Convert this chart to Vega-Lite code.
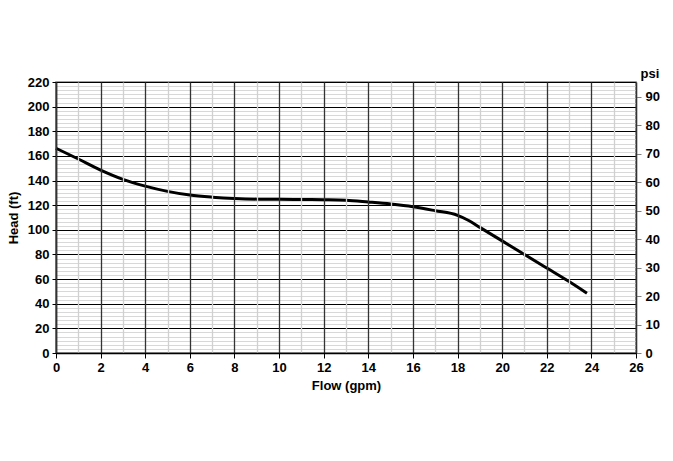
{
  "$schema": "https://vega.github.io/schema/vega-lite/v6.json",
  "width": 580,
  "height": 271,
  "autosize": "none",
  "padding": {"left": 56, "top": 82, "right": 37, "bottom": 108},
  "background": "white",
  "config": {
    "font": "Liberation Sans",
    "view": {"stroke": "#808080", "strokeWidth": 1.5},
    "axis": {
      "labelFont": "Liberation Sans",
      "labelFontWeight": "bold",
      "labelFontSize": 13,
      "labelColor": "#000",
      "titleFont": "Liberation Sans",
      "titleFontWeight": "bold",
      "titleFontSize": 13,
      "titleColor": "#000"
    }
  },
  "datasets": {
    "curve": [
      {"flow": 0, "head": 166.2},
      {"flow": 1, "head": 157.5},
      {"flow": 2, "head": 148.5},
      {"flow": 3, "head": 141.0},
      {"flow": 4, "head": 135.5},
      {"flow": 5, "head": 131.2},
      {"flow": 6, "head": 128.2},
      {"flow": 7, "head": 126.5},
      {"flow": 8, "head": 125.4},
      {"flow": 9, "head": 124.9},
      {"flow": 10, "head": 124.8},
      {"flow": 11, "head": 124.6},
      {"flow": 12, "head": 124.4},
      {"flow": 13, "head": 124.0},
      {"flow": 14, "head": 122.6},
      {"flow": 15, "head": 121.0},
      {"flow": 16, "head": 118.8},
      {"flow": 17, "head": 115.5},
      {"flow": 18, "head": 111.8},
      {"flow": 18.5, "head": 107.6},
      {"flow": 19, "head": 102.0},
      {"flow": 20, "head": 91.0},
      {"flow": 21, "head": 80.0},
      {"flow": 22, "head": 69.0},
      {"flow": 23, "head": 58.0},
      {"flow": 23.8, "head": 48.5}
    ],
    "psi": [{"psi": 0}, {"psi": 95.238}]
  },
  "layer": [
    {
      "data": {"name": "curve"},
      "mark": {"type": "line", "color": "#000", "strokeWidth": 3, "interpolate": "monotone", "zindex": 2},
      "encoding": {
        "x": {
          "field": "flow",
          "type": "quantitative",
          "scale": {"domain": [0, 26], "nice": false},
          "axis": {
            "title": "Flow (gpm)",
            "zindex": 1,
            "values": [0,1,2,3,4,5,6,7,8,9,10,11,12,13,14,15,16,17,18,19,20,21,22,23,24,25,26],
            "labelExpr": "datum.value % 2 ? '' : datum.label",
            "grid": true,
            "gridColor": {"condition": {"test": "datum.value % 2 === 0", "value": "#333333"}, "value": "#d0d0d0"},
            "gridWidth": {"condition": {"test": "datum.value % 2 === 0", "value": 1.3}, "value": 1.3},
            "tickColor": {"condition": {"test": "datum.value % 2 === 0", "value": "#000"}, "value": "transparent"},
            "tickSize": 5,
            "domainColor": "#000",
            "domainWidth": 1.5,
            "labelPadding": 3,
            "titlePadding": 5,
            "labelFlush": false
          }
        },
        "y": {
          "field": "head",
          "type": "quantitative",
          "scale": {"domain": [0, 220], "nice": false},
          "axis": {
            "title": "Head (ft)",
            "values": [0,3.3333,6.6667,10,13.3333,16.6667,20,23.3333,26.6667,30,33.3333,36.6667,40,43.3333,46.6667,50,53.3333,56.6667,60,63.3333,66.6667,70,73.3333,76.6667,80,83.3333,86.6667,90,93.3333,96.6667,100,103.3333,106.6667,110,113.3333,116.6667,120,123.3333,126.6667,130,133.3333,136.6667,140,143.3333,146.6667,150,153.3333,156.6667,160,163.3333,166.6667,170,173.3333,176.6667,180,183.3333,186.6667,190,193.3333,196.6667,200,203.3333,206.6667,210,213.3333,216.6667,220],
            "labelExpr": "datum.value % 20 === 0 ? datum.label : ''",
            "grid": true,
            "gridColor": {"condition": {"test": "datum.value % 20 === 0", "value": "#000"}, "value": "#d8d8d8"},
            "gridWidth": {"condition": {"test": "datum.value % 20 === 0", "value": 1.2}, "value": 1.2},
            "tickColor": {"condition": {"test": "datum.value % 20 === 0", "value": "#000"}, "value": "transparent"},
            "tickSize": 4,
            "domainColor": "#000",
            "domainWidth": 1.5,
            "labelPadding": 3,
            "titlePadding": 7
          }
        }
      }
    },
    {
      "data": {"name": "psi"},
      "mark": {"type": "point", "opacity": 0},
      "encoding": {
        "y": {
          "field": "psi",
          "type": "quantitative",
          "scale": {"domain": [0, 95.238], "nice": false},
          "axis": {
            "orient": "right",
            "title": "psi",
            "titleAngle": 0,
            "titleAlign": "left",
            "titleBaseline": "bottom",
            "titleX": 4,
            "titleY": -2,
            "values": [0,10,20,30,40,50,60,70,80,90],
            "grid": false,
            "tickColor": "#808080",
            "tickSize": 5,
            "domainColor": "#808080",
            "domainWidth": 1.5,
            "labelPadding": 4
          }
        }
      }
    }
  ],
  "resolve": {"scale": {"y": "independent"}}
}
